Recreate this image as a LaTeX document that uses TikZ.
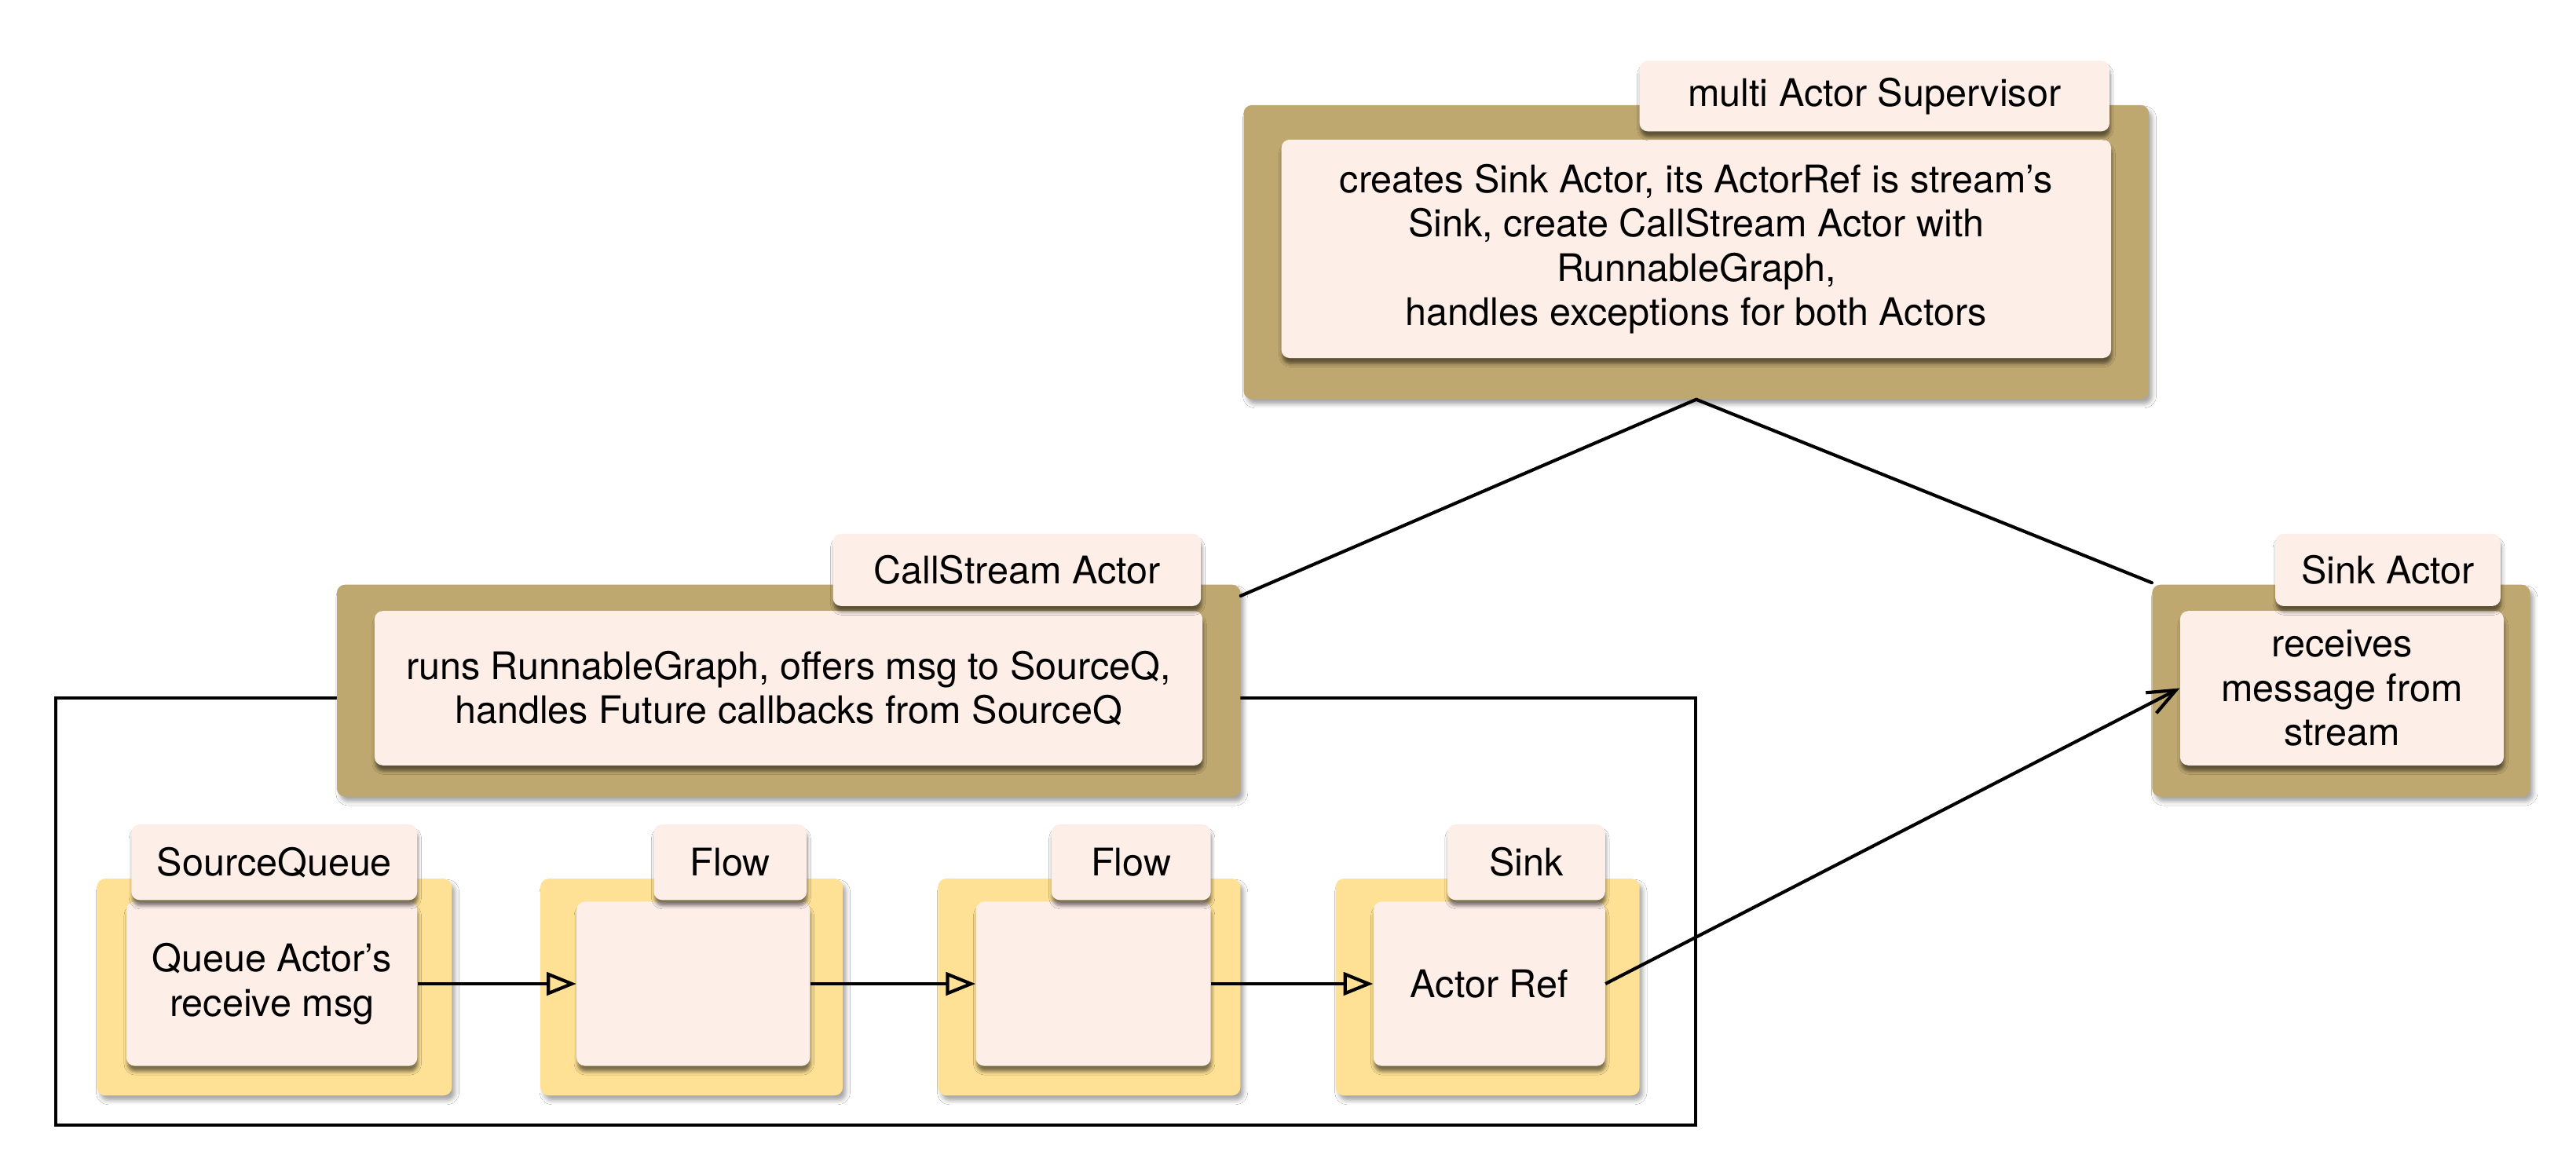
\documentclass[tikz,border=0pt]{standalone}
\usepackage{fontspec}
\setmainfont{TeX Gyre Heros}
\usetikzlibrary{arrows.meta,shadows.blur,calc}
\definecolor{khaki}{RGB}{191,168,111}
\definecolor{gold}{RGB}{254,225,148}
\definecolor{pinkbox}{RGB}{254,238,232}
\tikzset{
  outerbase/.style={rectangle, rounded corners=5pt, inner sep=0pt,
    blur shadow={shadow xshift=2pt, shadow yshift=-3pt, shadow opacity=35, shadow blur radius=2.5pt}},
  outerkhaki/.style={outerbase, fill=khaki},
  outergold/.style={outerbase, fill=gold},
  innerbox/.style={rectangle, fill=pinkbox, rounded corners=5pt, inner sep=0pt, align=center,
    font=\fontsize{23.2}{27}\selectfont,
    blur shadow={shadow xshift=0.5pt, shadow yshift=-3.5pt, shadow opacity=50, shadow blur radius=2pt}},
  tabbox/.style={innerbox},
  conn/.style={line width=2pt, line cap=round},
  flowarrow/.style={line width=2pt, -{Triangle[open, length=18pt, width=14pt, line width=2pt]}},
  refarrow/.style={line width=2pt, -{Straight Barb[length=17pt, width=14pt, line width=2pt]}},
}
\begin{document}
\begin{tikzpicture}[x=1pt,y=-1pt]
\useasboundingbox (0,0) rectangle (1568,707.5);
\fill[white] (0,0) rectangle (1568,707.5);

% enclosing stream rectangle
\draw[line width=2pt] (34,425) rectangle (1032,685);

% multi Actor Supervisor
\node[outerkhaki, minimum width=551pt, minimum height=179pt] (supo) at (1032.5,153.5) {};
\node[innerbox, minimum width=505pt, minimum height=133pt] (supi) at (1032.5,151.5)
  {creates Sink Actor, its ActorRef is stream’s\\Sink, create CallStream Actor with\\RunnableGraph,\\handles exceptions for both Actors};
\node[tabbox, minimum width=286pt, minimum height=43pt] (supt) at (1141,58.5) {multi Actor Supervisor};

% CallStream Actor
\node[outerkhaki, minimum width=550pt, minimum height=129pt] (cso) at (480,420.5) {};
\node[innerbox, minimum width=504pt, minimum height=94pt] (csi) at (480,419)
  {runs RunnableGraph, offers msg to SourceQ,\\handles Future callbacks from SourceQ};
\node[tabbox, minimum width=224pt, minimum height=44pt] (cst) at (619,347) {CallStream Actor};

% Sink Actor
\node[outerkhaki, minimum width=230pt, minimum height=129pt] (sao) at (1425,420.5) {};
\node[innerbox, minimum width=197pt, minimum height=94pt] (sai) at (1425.5,419)
  {receives\\message from\\stream};
\node[tabbox, minimum width=137pt, minimum height=44pt] (sat) at (1453.5,347) {Sink Actor};

% SourceQueue
\node[outergold, minimum width=216pt, minimum height=132pt] (sqo) at (167,601) {};
\node[innerbox, minimum width=177pt, minimum height=100pt] (sqi) at (165.5,599)
  {Queue Actor’s\\receive msg};
\node[tabbox, minimum width=174pt, minimum height=46pt] (sqt) at (167,525) {SourceQueue};

% Flow 1
\node[outergold, minimum width=184pt, minimum height=132pt] (f1o) at (421,601) {};
\node[innerbox, minimum width=142pt, minimum height=100pt] (f1i) at (422,599) {};
\node[tabbox, minimum width=93pt, minimum height=46pt] (f1t) at (444.5,525) {Flow};

% Flow 2
\node[outergold, minimum width=184pt, minimum height=132pt] (f2o) at (663,601) {};
\node[innerbox, minimum width=143pt, minimum height=100pt] (f2i) at (665.5,599) {};
\node[tabbox, minimum width=97pt, minimum height=46pt] (f2t) at (688.5,525) {Flow};

% Sink
\node[outergold, minimum width=185pt, minimum height=132pt] (sko) at (905.5,601) {};
\node[innerbox, minimum width=141pt, minimum height=100pt] (ski) at (906.5,599) {Actor Ref};
\node[tabbox, minimum width=96pt, minimum height=46pt] (skt) at (929,525) {Sink};

% connectors
\draw[flowarrow] (sqi.east) -- (f1i.west);
\draw[flowarrow] (f1i.east) -- (f2i.west);
\draw[flowarrow] (f2i.east) -- (ski.west);
\draw[refarrow] (ski.east) -- (sai.west);

\draw[conn] (supo.south) -- ($(cso.north east)+(0,7)$);
\draw[conn] (supo.south) -- ($(sao.north west)+(0,-1)$);
\end{tikzpicture}
\end{document}
